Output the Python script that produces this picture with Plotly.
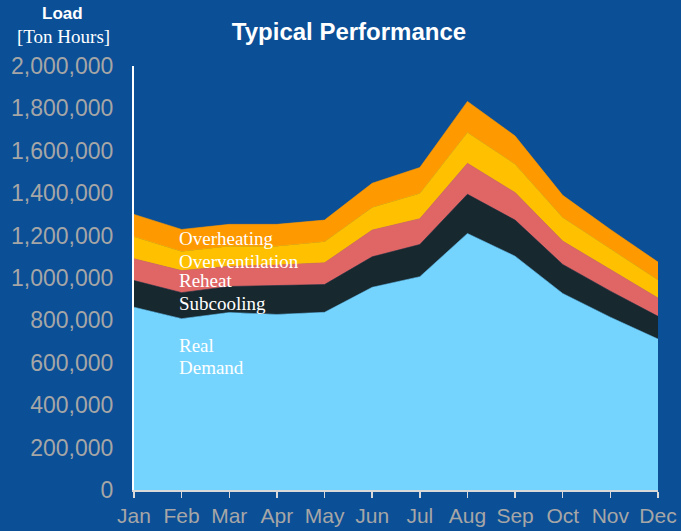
import plotly.graph_objects as go

months = ["Jan", "Feb", "Mar", "Apr", "May", "Jun", "Jul", "Aug", "Sep", "Oct", "Nov", "Dec"]
real_demand = [862000, 808000, 837000, 828000, 838000, 956000, 1006000, 1210000, 1103000, 927000, 815000, 712000]
subcooling = [126000, 123000, 123000, 135000, 131000, 144000, 152000, 185000, 170000, 137000, 123000, 107000]
reheat = [103000, 104000, 96000, 98000, 103000, 126000, 122000, 146000, 130000, 110000, 102000, 87000]
overventilation = [104000, 90000, 94000, 89000, 99000, 106000, 119000, 145000, 134000, 111000, 98000, 84000]
overheating = [105000, 104000, 103000, 103000, 102000, 115000, 122000, 147000, 133000, 105000, 91000, 85000]
y_ticks = [0, 200000, 400000, 600000, 800000, 1000000, 1200000, 1400000, 1600000, 1800000, 2000000]

series = [
    ("Real Demand", real_demand, "#75d4fe"),
    ("Subcooling", subcooling, "#17282f"),
    ("Reheat", reheat, "#e06666"),
    ("Overventilation", overventilation, "#ffc000"),
    ("Overheating", overheating, "#ff9900"),
]

SANS = "Liberation Sans, Arial, sans-serif"
SERIF = "Liberation Serif, Times New Roman, serif"
BG = "#0b4f97"

fig = go.Figure()
xs = list(range(len(months)))
for name, vals, col in series:
    fig.add_trace(go.Scatter(
        x=xs, y=vals, name=name, mode="lines", stackgroup="one",
        line=dict(width=0.6, color=col), fillcolor=col, hoverinfo="skip",
    ))

fig.update_layout(
    width=681, height=531,
    paper_bgcolor=BG, plot_bgcolor=BG,
    margin=dict(l=134, r=23, t=66, b=41, autoexpand=False),
    showlegend=False,
    title=dict(text="Typical Performance", x=349 / 681, xanchor="center",
               y=1 - 32 / 531, yanchor="middle",
               font=dict(family=SANS, size=24, color="white", weight="bold")),
    xaxis=dict(
        range=[0, len(months) - 1], tickmode="array", tickvals=xs, ticktext=months,
        showgrid=False, zeroline=False, showline=True, linecolor="#d9d9d9", linewidth=1.5,
        ticks="outside", ticklen=6, tickwidth=1.5, tickcolor="#d9d9d9", automargin=False,
        tickfont=dict(family=SANS, size=21, color="#a6a6a6"),
    ),
    yaxis=dict(
        range=[0, 2000000], tickmode="array", tickvals=y_ticks,
        ticktext=[f"{v:,}" for v in y_ticks], automargin=False,
        showgrid=False, zeroline=False, showline=True, linecolor="white", linewidth=2,
        ticks="", ticklabelstandoff=14,
        tickfont=dict(family=SANS, size=23, color="#a6a6a6"),
    ),
)

fig.add_annotation(text="Load", xref="paper", yref="paper", x=(62 - 134) / 524, y=(490 - 14) / 424,
                   xanchor="center", yanchor="middle", showarrow=False,
                   font=dict(family=SANS, size=17, color="white", weight="bold"))
fig.add_annotation(text="[Ton Hours]", xref="paper", yref="paper", x=(63 - 134) / 524, y=(490 - 37) / 424,
                   xanchor="center", yanchor="middle", showarrow=False,
                   font=dict(family=SERIF, size=19, color="white"))

labels = [("Overheating", 238), ("Overventilation", 261), ("Reheat", 280),
          ("Subcooling", 303), ("Real", 345), ("Demand", 367)]
for txt, yc in labels:
    fig.add_annotation(text=txt, xref="paper", yref="paper", x=(177 - 134) / 524, y=(490 - yc) / 424,
                       xanchor="left", yanchor="middle", showarrow=False,
                       font=dict(family=SERIF, size=19, color="white"))

fig.write_html("out.html", config={"displayModeBar": False, "staticPlot": True},
               post_script="document.body.style.margin='0';document.body.style.overflow='hidden';")
